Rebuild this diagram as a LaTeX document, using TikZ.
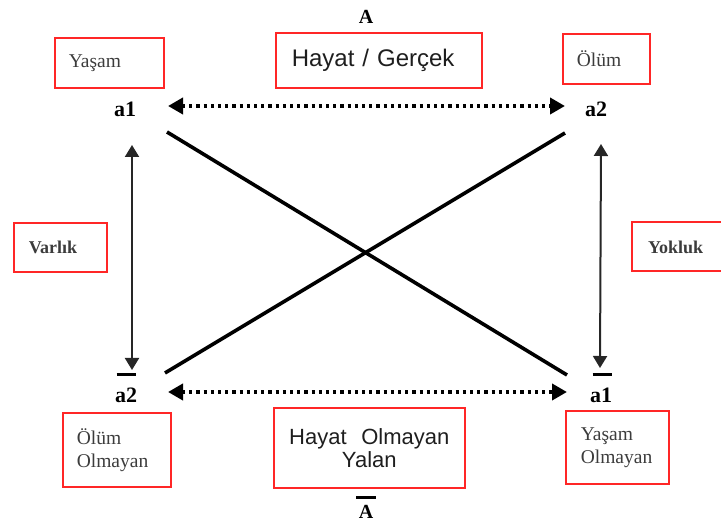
\documentclass[tikz,border=0pt]{standalone}
\usepackage{fontspec}
\setmainfont{Liberation Serif}
\newfontfamily\arialf{Liberation Sans}
\usetikzlibrary{arrows.meta,calc}
\definecolor{boxred}{HTML}{FF2626}
\definecolor{labgray}{HTML}{3C3C3C}
\definecolor{sanstext}{HTML}{1E1E1E}
\begin{document}
\begin{tikzpicture}[x=1pt,y=-1pt,
  redbox/.style={draw=boxred, line width=1.6pt, inner ysep=0pt, inner xsep=14pt,
    anchor=north west, text=labgray, font=\fontsize{19.5}{23}\selectfont, align=left},
  sansbox/.style={draw=boxred, line width=1.6pt, inner ysep=0pt, anchor=north west,
    text=sanstext},
  lab/.style={font=\bfseries\fontsize{22}{26}\selectfont, inner sep=0pt},
  bigA/.style={font=\bfseries\fontsize{20}{24}\selectfont, inner sep=0pt},
  bar/.style={line width=3pt},
  dotarr/.style={line width=3.8pt, dash pattern=on 3.2pt off 4pt,
    {Triangle[length=15pt,width=16pt]}-{Triangle[length=15pt,width=16pt]}},
  vert/.style={line width=2pt, draw=black!85,
    {Triangle[length=12pt,width=14pt]}-{Triangle[length=12pt,width=14pt]}},
  diag/.style={line width=3.6pt}
]
\useasboundingbox (0,0) rectangle (721,526);

% labels
\node[bigA] (Atop) at (366,17) {A};
\node[bigA] (Abot) at (366,512) {A};
\draw[bar] ($(Abot.center)+(-10,-14)$) -- ++(20,0);

\node[lab] (a1) at (125,109) {a1};
\node[lab] (a2) at (596,109) {a2};
\node[lab] (na2) at (126,395) {a2};
\node[lab] (na1) at (601,395) {a1};
\draw[bar] ($(na2.center)+(-9.5,-20)$) -- ++(19,0);
\draw[bar] ($(na1.center)+(-8.5,-20)$) -- ++(19,0);

% boxes
\node[redbox, minimum width=109pt, minimum height=50pt, text width=81pt] (yasam) at (54,37) {Yaşam};
\node[redbox, minimum width=87pt, minimum height=50pt, text width=59pt] (olum) at (562,33) {Ölüm};
\node[redbox, inner xsep=15pt, minimum width=93pt, minimum height=49pt, text width=63pt,
  font=\bfseries\fontsize{18}{22}\selectfont] (varlik) at (13,222) {Varlık};
\node[redbox, minimum width=108pt, minimum height=74pt, text width=80pt] (olumol) at (62,412) {Ölüm\\Olmayan};
\node[redbox, inner xsep=15pt, minimum width=103pt, minimum height=73pt, text width=73pt] (yasamol) at (565,410) {Yaşam\\Olmayan};
\node[sansbox, inner xsep=16pt, minimum width=206pt, minimum height=55pt, text width=174pt,
  align=left, font=\arialf\fontsize{24}{28}\selectfont] (hayat) at (275,32) {Hayat / Gerçek};
\node[sansbox, minimum width=191pt, minimum height=80pt, text width=175pt, inner xsep=8pt,
  align=center, font=\arialf\fontsize{22}{23}\selectfont] (hayatol) at (273,407) {Hayat\ \ Olmayan\\Yalan};

% Yokluk box (cut at the right edge)
\node[anchor=west, inner sep=0pt, text=labgray, font=\bfseries\fontsize{18}{22}\selectfont] (yokluk) at (648,247) {Yokluk};
\draw[draw=boxred, line width=1.6pt] ($(yokluk.west)+(80,-25)$) -- ($(yokluk.west)+(-16,-25)$)
  -- ($(yokluk.west)+(-16,24)$) -- ($(yokluk.west)+(80,24)$);

% connector end points
\coordinate (t1) at ($(a1.center)+(43,-3)$);
\coordinate (t2) at ($(a2.center)+(-31,-3)$);
\coordinate (b1) at ($(na2.center)+(42,-3)$);
\coordinate (b2) at ($(na1.center)+(-34,-3)$);
\coordinate (l1) at ($(a1.center)+(7,36)$);
\coordinate (l2) at ($(na2.center)+(6,-25)$);
\coordinate (r1) at ($(a2.center)+(5,35)$);
\coordinate (r2) at ($(na1.center)+(-1,-27)$);
\coordinate (d1) at ($(a1.center)+(42,23)$);
\coordinate (d2) at ($(na1.center)+(-34,-20)$);
\coordinate (d3) at ($(a2.center)+(-31,24)$);
\coordinate (d4) at ($(na2.center)+(39,-22)$);

% connectors
\draw[dotarr] (t1) -- (t2);
\draw[dotarr] (b1) -- (b2);
\draw[vert] (l1) -- (l2);
\draw[vert] (r1) -- (r2);
\draw[diag] (d1) -- (d2);
\draw[diag] (d3) -- (d4);
\end{tikzpicture}
\end{document}
